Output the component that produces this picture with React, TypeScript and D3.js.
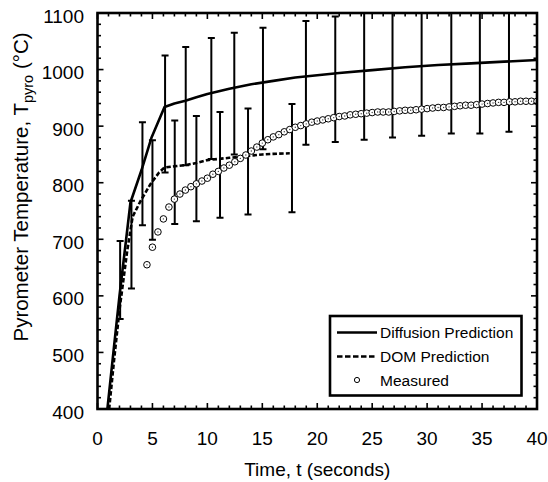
import React from "react";
import * as d3 from "d3";

// ---- data ----
const diffT = [0.9, 1.5, 2.0, 3.0, 4.0, 4.9, 6.1, 7.0, 8.0, 9.0, 10.0, 12.0, 14.0, 16.0, 18.0, 20.0, 22.0, 25.0, 28.0, 31.0, 34.0, 37.0, 40.0];
const diffV = [400, 510, 600, 765, 822, 879, 934, 940, 945, 951, 957, 966, 974, 980, 986, 990, 994, 999, 1004, 1008, 1011, 1014, 1017];

const domT = [1.06, 1.5, 2.0, 2.7, 3.2, 3.9, 4.8, 5.6, 6.1, 7, 8, 9, 10, 11, 12, 13, 14, 15, 16, 17.5];
const domV = [400, 485, 575, 679, 740, 767, 797, 818, 827, 829, 831, 835, 840, 842, 844, 846, 848, 850, 851, 852];

const measT = [4.5, 5, 5.5, 6, 6.5, 7, 7.5, 8, 8.5, 9, 9.5, 10, 10.5, 11, 11.5, 12, 12.5, 13, 13.5, 14, 14.5, 15, 15.5, 16, 16.5, 17, 17.5, 18, 18.5, 19, 19.5, 20, 20.5, 21, 21.5, 22, 22.5, 23, 23.5, 24, 24.5, 25, 25.5, 26, 26.5, 27, 27.5, 28, 28.5, 29, 29.5, 30, 30.5, 31, 31.5, 32, 32.5, 33, 33.5, 34, 34.5, 35, 35.5, 36, 36.5, 37, 37.5, 38, 38.5, 39, 39.5, 40];
const measV = [655, 686, 713, 736, 757, 771, 780, 787, 793, 798, 803, 808, 815, 820, 826, 831, 837, 843, 849, 856, 863, 870, 876, 881, 885, 890, 894, 898, 901, 904, 907, 909, 911, 913, 915, 917, 918, 920, 921, 922, 923, 924, 925, 925, 925, 926, 927, 928, 928, 929, 930, 931, 932, 933, 933, 934, 935, 936, 937, 937, 938, 939, 940, 941, 942, 942, 943, 943, 944, 944, 944, 944];

const errT = [2.06, 3.09, 4.09, 5.0, 6.15, 7.03, 8.03, 9.0, 10.36, 11.15, 12.45, 13.7, 15.06, 17.7, 18.97, 21.64, 24.27, 26.85, 29.5, 32.2, 34.8, 37.45];
const errLo = [559, 613, 725, 699, 818, 727, 831, 732, 842, 738, 850, 744, 859, 748, 867, 872, 876, 880, 883, 887, 887, 890];
const errHi = [697, 768, 907, 875, 1025, 910, 1040, 918, 1056, 925, 1065, 931, 1074, 939, 1086, 1094, 1125, 1125, 1130, 1130, 1135, 1135];

const xTickLabels = [0, 5, 10, 15, 20, 25, 30, 35, 40];
const yTickLabels = [400, 500, 600, 700, 800, 900, 1000, 1100];
const xMinor = d3.range(0, 41, 1);
const yMinor = d3.range(400, 1101, 20);

const legendItems = ["Diffusion Prediction", "DOM Prediction", "Measured"];

// ---- layout ----
const W = 548, H = 482;
const L = 97.5, R = 537, T = 13, B = 409;

export default function App() {
  const x = d3.scaleLinear().domain([0, 40]).range([L, R]);
  const y = d3.scaleLinear().domain([400, 1100]).range([B, T]);
  const line = d3.line<[number, number]>().x(d => x(d[0])).y(d => y(d[1]));
  const diffPath = line(diffT.map((t, i) => [t, diffV[i]]))!;
  const domPath = line(domT.map((t, i) => [t, domV[i]]))!;
  const font = "'Liberation Sans', Arial, sans-serif";
  const cap = 3.5;

  return (
    <svg width={W} height={H} style={{ position: "absolute", left: 0, top: 0, background: "#fff" }} fontFamily={font}>
      <defs>
        <clipPath id="plot">
          <rect x={L} y={T} width={R - L} height={B - T} />
        </clipPath>
      </defs>
      <rect x={0} y={0} width={W} height={H} fill="#fff" />
      <g clipPath="url(#plot)">
        {errT.map((t, i) => (
          <g key={"e" + i} stroke="#000" strokeWidth={2}>
            <line x1={x(t)} x2={x(t)} y1={y(errLo[i])} y2={y(errHi[i])} />
            <line x1={x(t) - cap} x2={x(t) + cap} y1={y(errLo[i])} y2={y(errLo[i])} />
            <line x1={x(t) - cap} x2={x(t) + cap} y1={y(errHi[i])} y2={y(errHi[i])} />
          </g>
        ))}
        <path d={diffPath} fill="none" stroke="#000" strokeWidth={2.6} strokeLinejoin="round" />
        <path d={domPath} fill="none" stroke="#000" strokeWidth={2.6} strokeDasharray="4.5,2.2" />
        {measT.map((t, i) => (
          <g key={"m" + i}>
            <circle cx={x(t)} cy={y(measV[i])} r={3.3} fill="#fff" stroke="#000" strokeWidth={1} />
            <circle cx={x(t)} cy={y(measV[i])} r={0.7} fill="#444" />
          </g>
        ))}
      </g>
      <g stroke="#000" strokeWidth={1.6}>
        {xMinor.map(v => {
          const len = v % 5 === 0 ? 6 : 3.5;
          return (
            <g key={"xt" + v}>
              <line x1={x(v)} x2={x(v)} y1={B} y2={B - len} />
              <line x1={x(v)} x2={x(v)} y1={T} y2={T + len} />
            </g>
          );
        })}
        {yMinor.map(v => {
          const len = v % 100 === 0 ? 6 : 3.5;
          return (
            <g key={"yt" + v}>
              <line x1={L} x2={L + len} y1={y(v)} y2={y(v)} />
              <line x1={R} x2={R - len} y1={y(v)} y2={y(v)} />
            </g>
          );
        })}
      </g>
      <rect x={L} y={T} width={R - L} height={B - T} fill="none" stroke="#000" strokeWidth={2.6} />
      {xTickLabels.map(v => (
        <text key={"xl" + v} x={x(v)} y={445} fontSize={19} textAnchor="middle">{v}</text>
      ))}
      {yTickLabels.map(v => (
        <text key={"yl" + v} x={84} y={y(v) + 9.5} fontSize={19} textAnchor="end">{v}</text>
      ))}
      <text x={(L + R) / 2} y={476} fontSize={19} textAnchor="middle">Time, t (seconds)</text>
      <text transform="translate(28,187) rotate(-90)" fontSize={20.5} textAnchor="middle">
        Pyrometer Temperature, T<tspan fontSize={14.5} dy={5}>pyro</tspan><tspan dy={-5}> (°C)</tspan>
      </text>
      <rect x={330} y={316} width={191.5} height={79.5} fill="#fff" stroke="#000" strokeWidth={2.6} />
      <line x1={337} x2={377} y1={332.5} y2={332.5} stroke="#000" strokeWidth={2.6} />
      <line x1={337} x2={377} y1={356.5} y2={356.5} stroke="#000" strokeWidth={2.6} strokeDasharray="5.5,2.5" />
      <circle cx={357} cy={380} r={2.6} fill="#fff" stroke="#000" strokeWidth={1} />
      {legendItems.map((s, i) => (
        <text key={s} x={380} y={338 + i * 24} fontSize={15.5}>{s}</text>
      ))}
    </svg>
  );
}
